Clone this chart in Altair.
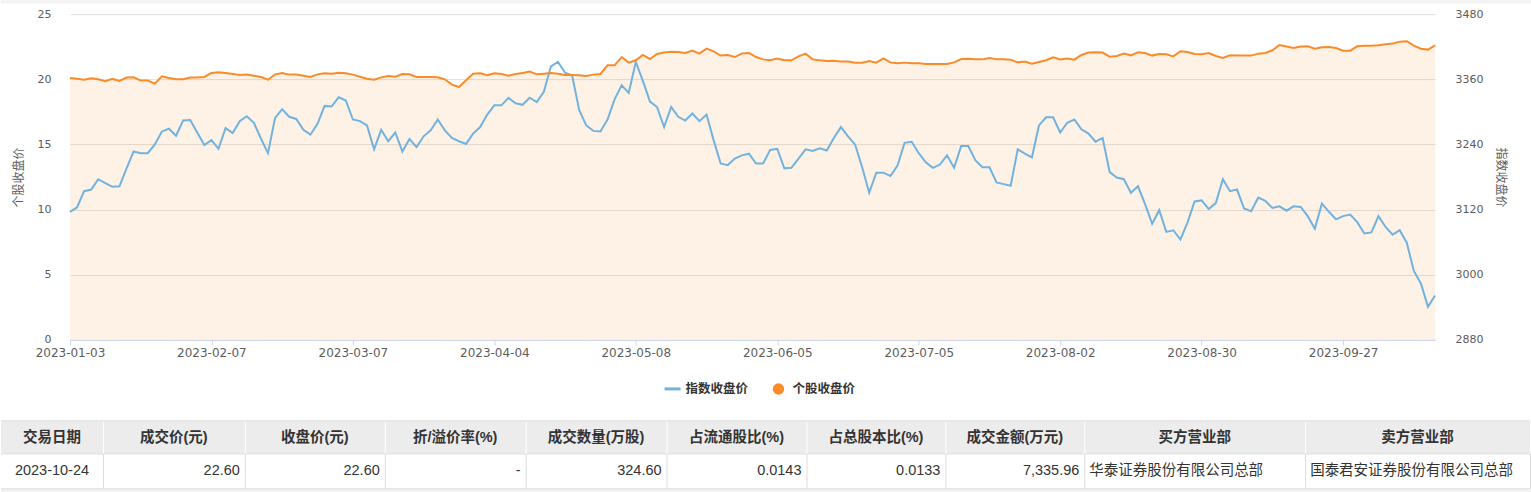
import altair as alt
import pandas as pd

# ---------------- data ----------------
holidays = ["2023-01-23", "2023-01-24", "2023-01-25", "2023-01-26", "2023-01-27",
            "2023-04-05", "2023-05-01", "2023-05-02", "2023-05-03",
            "2023-06-22", "2023-06-23", "2023-09-29",
            "2023-10-02", "2023-10-03", "2023-10-04", "2023-10-05", "2023-10-06"]
dates = [d.strftime("%Y-%m-%d") for d in pd.bdate_range("2023-01-03", "2023-10-24")
         if d.strftime("%Y-%m-%d") not in holidays]

stock_close = [
    20.10, 20.05, 19.97, 20.08, 20.00, 19.85, 20.03, 19.87, 20.13, 20.15,
    19.90, 19.90, 19.67, 20.23, 20.10, 20.00, 20.00, 20.13, 20.13, 20.18,
    20.49, 20.54, 20.49, 20.41, 20.33, 20.36, 20.28, 20.18, 19.97, 20.38,
    20.49, 20.36, 20.36, 20.28, 20.18, 20.38, 20.46, 20.43, 20.51, 20.46,
    20.36, 20.20, 20.05, 19.97, 20.15, 20.26, 20.20, 20.41, 20.38, 20.18,
    20.18, 20.18, 20.15, 20.00, 19.59, 19.41, 19.92, 20.43, 20.46, 20.31,
    20.46, 20.41, 20.28, 20.40, 20.49, 20.59, 20.38, 20.43, 20.49, 20.43,
    20.33, 20.33, 20.31, 20.26, 20.36, 20.41, 21.07, 21.07, 21.71, 21.28,
    21.46, 21.87, 21.56, 21.94, 22.05, 22.12, 22.10, 22.02, 22.20, 21.97,
    22.35, 22.15, 21.82, 21.87, 21.71, 21.99, 22.02, 21.71, 21.53, 21.46,
    21.59, 21.46, 21.46, 21.76, 21.97, 21.53, 21.46, 21.41, 21.43, 21.36,
    21.36, 21.28, 21.28, 21.41, 21.28, 21.61, 21.30, 21.23, 21.28, 21.23,
    21.23, 21.18, 21.18, 21.18, 21.18, 21.30, 21.56, 21.57, 21.53, 21.53,
    21.64, 21.53, 21.53, 21.51, 21.30, 21.36, 21.20, 21.33, 21.46, 21.69,
    21.53, 21.59, 21.51, 21.87, 22.05, 22.07, 22.05, 21.74, 21.79, 21.97,
    21.84, 22.07, 22.02, 21.82, 21.94, 21.92, 21.76, 22.15, 22.10, 21.95,
    21.92, 22.02, 21.79, 21.64, 21.84, 21.82, 21.82, 21.82, 21.97, 22.02,
    22.23, 22.63, 22.51, 22.40, 22.51, 22.53, 22.35, 22.46, 22.48, 22.40,
    22.20, 22.20, 22.53, 22.58, 22.58, 22.61, 22.69, 22.74, 22.89, 22.92,
    22.58, 22.35, 22.28, 22.60]

index_close = [
    3116, 3124, 3154, 3157, 3176, 3169, 3162, 3163, 3196, 3227,
    3224, 3224, 3240, 3264, 3269, 3256, 3284, 3285, 3262, 3239,
    3248, 3232, 3270, 3261, 3283, 3292, 3280, 3251, 3224, 3289,
    3305, 3291, 3287, 3267, 3258, 3278, 3311, 3310, 3327, 3321,
    3286, 3283, 3275, 3231, 3267, 3246, 3262, 3227, 3250, 3235,
    3255, 3266, 3286, 3266, 3252, 3246, 3241, 3260, 3272, 3295,
    3312, 3312, 3326, 3316, 3313, 3326, 3318, 3337, 3384, 3392,
    3372, 3367, 3303, 3275, 3265, 3264, 3286, 3323, 3349, 3335,
    3392, 3357, 3319, 3309, 3272, 3309, 3291, 3284, 3297, 3283,
    3295, 3248, 3205, 3202, 3214, 3220, 3223, 3205, 3205, 3230,
    3232, 3196, 3197, 3214, 3231, 3228, 3233, 3229, 3252, 3272,
    3255, 3240, 3198, 3151, 3188, 3188, 3182, 3201, 3243, 3245,
    3224, 3207, 3197, 3203, 3220, 3197, 3237, 3237, 3211, 3198,
    3198, 3170, 3167, 3164, 3231, 3223, 3216, 3275, 3290, 3290,
    3262, 3280, 3286, 3268, 3260, 3245, 3252, 3189, 3179, 3176,
    3151, 3163, 3130, 3094, 3119, 3079, 3082, 3065, 3096, 3135,
    3137, 3121, 3132, 3176, 3154, 3157, 3122, 3117, 3142, 3136,
    3123, 3126, 3118, 3126, 3125, 3108, 3085, 3131, 3116, 3102,
    3108, 3111, 3097, 3076, 3078, 3108, 3088, 3074, 3082, 3059,
    3007, 2984, 2941, 2962]

tick_labels = ["2023-01-03", "2023-02-07", "2023-03-07", "2023-04-04", "2023-05-08",
               "2023-06-05", "2023-07-05", "2023-08-02", "2023-08-30", "2023-09-27"]
left_ticks = [0, 5, 10, 15, 20, 25]
right_ticks = [2880, 3000, 3120, 3240, 3360, 3480]

series_names = ["指数收盘价", "个股收盘价"]

headers = ["交易日期", "成交价(元)", "收盘价(元)", "折/溢价率(%)", "成交数量(万股)",
           "占流通股比(%)", "占总股本比(%)", "成交金额(万元)", "买方营业部", "卖方营业部"]
row_values = ["2023-10-24", "22.60", "22.60", "-", "324.60", "0.0143", "0.0133",
              "7,335.96", "华泰证券股份有限公司总部", "国泰君安证券股份有限公司总部"]
col_align = ["center", "right", "right", "right", "right", "right", "right", "right", "left", "left"]

# ---------------- layout / style ----------------
col_edges = [0, 102, 244, 384, 525, 666, 806, 945, 1084, 1305, 1530]
LEFT, TOP = 69, 14
W, H = 1366, 326
PAGE_W = 1531
ORANGE = "#fa8c28"
BLUE = "#72b2de"
AXFONT = "DejaVu Sans, Noto Sans CJK SC, sans-serif"
TFONT = "Liberation Sans, Noto Sans CJK SC, sans-serif"
LBL = "#5c5c5c"

df = pd.DataFrame({"date": dates, "stock": stock_close, "index": index_close})

x_enc = alt.X("date:O", sort=None, title=None,
              scale=alt.Scale(type="point", padding=0),
              axis=alt.Axis(values=tick_labels, labelAngle=0, grid=False,
                            domainColor="#ccd6eb", tickColor="#ccd6eb", tickSize=5,
                            labelPadding=3, labelFont=AXFONT, labelFontSize=12,
                            labelColor=LBL, labelOverlap=False))

area = alt.Chart(df).mark_area(color=ORANGE, opacity=0.11).encode(
    x=x_enc,
    y=alt.Y("stock:Q", scale=alt.Scale(domain=[0, 25], nice=False, zero=True),
            axis=alt.Axis(values=left_ticks, orient="left", title=series_names[1],
                          grid=True, gridColor="#e2e2e2", gridWidth=1, format="d",
                          domain=False, ticks=False, tickSize=0, labelPadding=19,
                          labelFont=AXFONT, labelFontSize=11, labelColor=LBL,
                          titleFont=AXFONT, titleFontSize=12, titleFontWeight="normal",
                          titleColor=LBL, titleX=-51, titleY=163,
                          titleAlign="center", titleBaseline="middle")))

blue_line = alt.Chart(df).mark_line(color=BLUE, strokeWidth=2).encode(
    x=x_enc,
    y=alt.Y("index:Q", scale=alt.Scale(domain=[2880, 3480], nice=False, zero=False),
            axis=alt.Axis(values=right_ticks, orient="right", title=series_names[0],
                          grid=False, domain=False, ticks=False, tickSize=0, labelPadding=20,
                          format="d",
                          labelFont=AXFONT, labelFontSize=11, labelColor=LBL,
                          titleFont=AXFONT, titleFontSize=12, titleFontWeight="normal",
                          titleColor=LBL, titleX=65, titleY=163,
                          titleAlign="center", titleBaseline="middle")))

orange_line = alt.Chart(df).mark_line(color=ORANGE, strokeWidth=2).encode(
    x=x_enc,
    y=alt.Y("stock:Q", scale=alt.Scale(domain=[0, 25], nice=False, zero=True), axis=None))

one = pd.DataFrame({"k": [0]})

# top band
top_band = alt.Chart(one).mark_rect(color="#f2f2f2").encode(
    x=alt.value(-LEFT), x2=alt.value(PAGE_W - LEFT), y=alt.value(-TOP), y2=alt.value(-TOP + 3))

# legend
leg_df = pd.DataFrame({"name": series_names, "px": [616, 723]})
leg_line = alt.Chart(one).mark_rule(color=BLUE, strokeWidth=3).encode(
    x=alt.value(595), x2=alt.value(611), y=alt.value(375))
leg_dot = alt.Chart(one).mark_circle(color=ORANGE, opacity=1, size=130).encode(
    x=alt.value(709), y=alt.value(375))
leg_text = alt.Chart(leg_df).mark_text(align="left", baseline="middle", font=TFONT,
                                       fontSize=12.5, fontWeight="bold", color="#333").encode(
    x=alt.X("px:Q", scale=None), y=alt.value(375), text="name:N")

# table
HY0, HY1, RY1 = 421 - TOP, 454 - TOP, 489 - TOP
hdr_bg = alt.Chart(one).mark_rect(color="#ececec").encode(
    x=alt.value(-LEFT), x2=alt.value(col_edges[-1] - LEFT), y=alt.value(HY0), y2=alt.value(HY1))
bot_band = alt.Chart(one).mark_rect(color="#f2f2f2").encode(
    x=alt.value(-LEFT), x2=alt.value(PAGE_W - LEFT), y=alt.value(RY1), y2=alt.value(RY1 + 3))
hlines_df = pd.DataFrame({"py": [HY0, HY1, RY1]})
hlines = alt.Chart(hlines_df).mark_rule(color="#dcdcdc", strokeWidth=1).encode(
    y=alt.Y("py:Q", scale=None), x=alt.value(-LEFT), x2=alt.value(col_edges[-1] - LEFT))
sep_df = pd.DataFrame({"px": [e - LEFT + 0.5 for e in col_edges[1:]]})
hdr_sep = alt.Chart(sep_df).mark_rule(color="#ffffff", strokeWidth=1).encode(
    x=alt.X("px:Q", scale=None), y=alt.value(HY0 + 1), y2=alt.value(HY1))
row_sep = alt.Chart(sep_df).mark_rule(color="#dcdcdc", strokeWidth=1).encode(
    x=alt.X("px:Q", scale=None), y=alt.value(HY1), y2=alt.value(RY1))

hdr_df = pd.DataFrame({"text": headers,
                       "px": [(col_edges[i] + col_edges[i + 1]) / 2 - LEFT for i in range(10)]})
def cell_x(i):
    l, r = col_edges[i] - LEFT, col_edges[i + 1] - LEFT
    a = col_align[i]
    return (l + r) / 2 if a == "center" else (r - 5 if a == "right" else l + 5)
row_df = pd.DataFrame({"text": row_values, "align": col_align,
                       "px": [cell_x(i) for i in range(10)]})

hdr_text = alt.Chart(hdr_df).mark_text(align="center", baseline="middle", font=TFONT,
                                       fontSize=14.5, fontWeight="bold", color="#333").encode(
    x=alt.X("px:Q", scale=None), y=alt.value((HY0 + HY1) / 2 + 1), text="text:N")
row_layers = []
for a in ["center", "right", "left"]:
    row_layers.append(
        alt.Chart(row_df).transform_filter(alt.datum.align == a).mark_text(
            align=a, baseline="middle", font=TFONT, fontSize=14.5, color="#333").encode(
            x=alt.X("px:Q", scale=None), y=alt.value((HY1 + RY1) / 2), text="text:N"))

chart = alt.layer(
    top_band, area, blue_line, orange_line,
    leg_line, leg_dot, leg_text,
    hdr_bg, bot_band, hlines, hdr_sep, row_sep, hdr_text, *row_layers
).resolve_scale(y="independent").properties(
    width=W, height=H, padding=0, background="#ffffff"
).configure_view(stroke=None)

chart.save("out.html", embed_options={"renderer": "svg", "actions": False})
